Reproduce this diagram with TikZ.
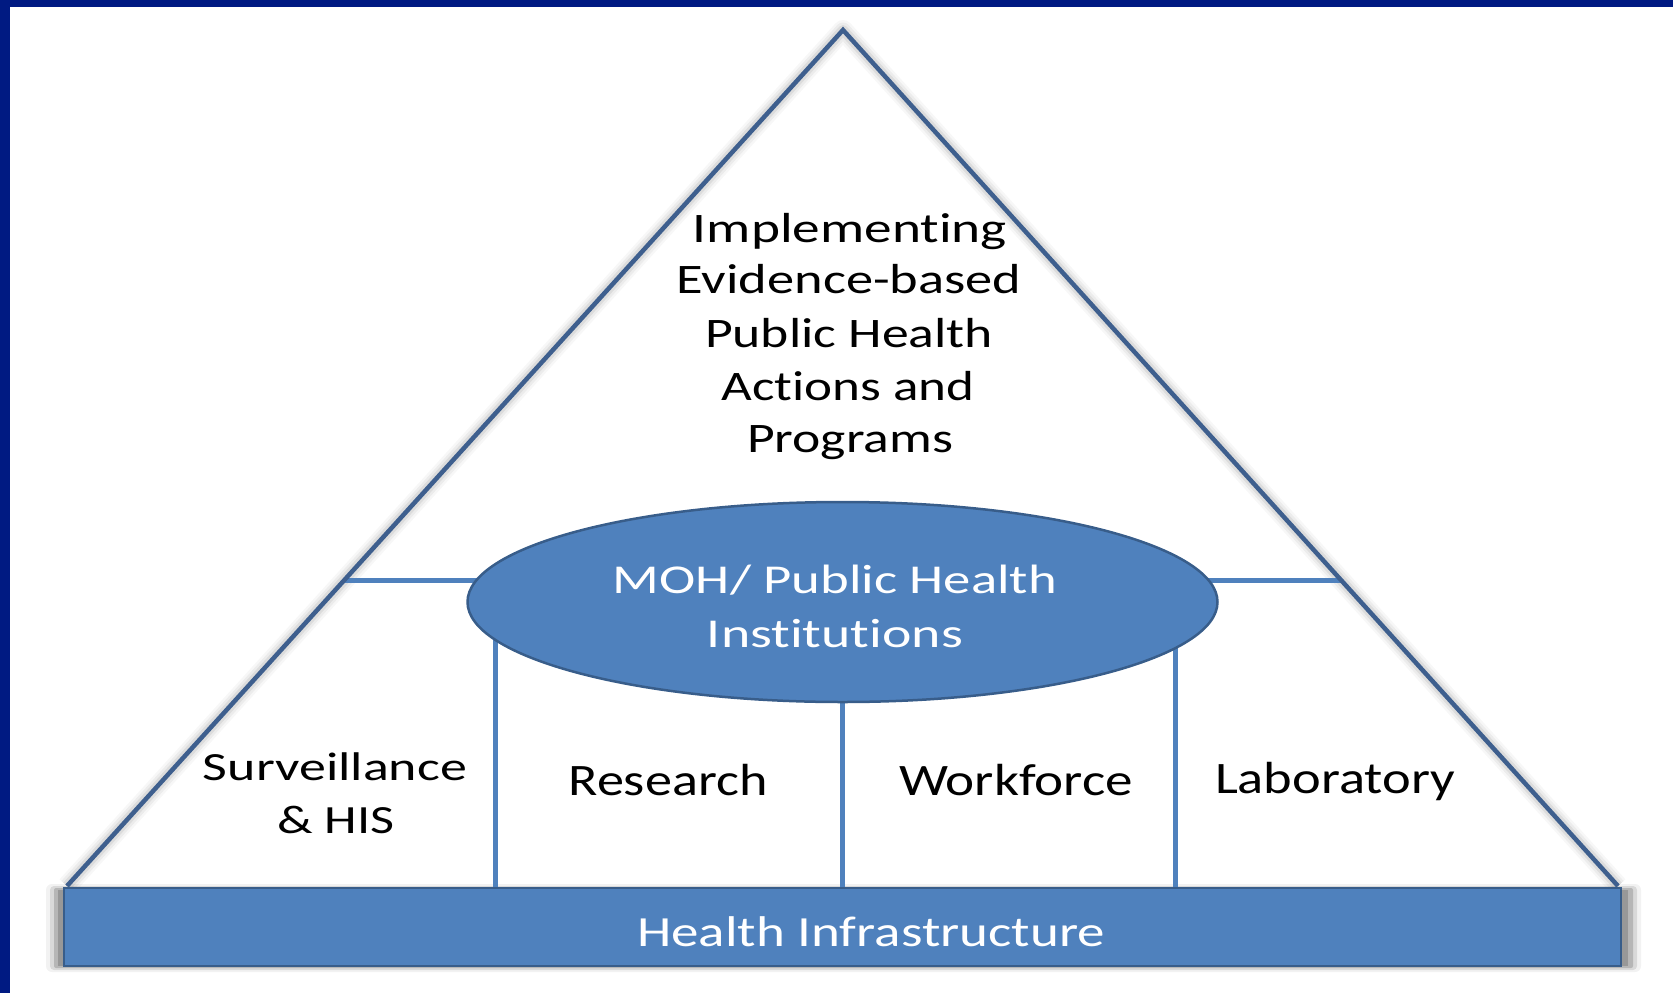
\documentclass[tikz,border=0pt]{standalone}
\usepackage{fontspec}
\setmainfont{Carlito}[Ligatures=NoCommon, Contextuals=NoAlternate]
\usepackage{graphicx}
\usetikzlibrary{shapes.geometric}
\definecolor{frameblue}{RGB}{0,26,130}
\definecolor{fillblue}{HTML}{4F81BD}
\definecolor{edgeblue}{HTML}{385D8A}
\definecolor{triblue}{HTML}{3E5F8E}
\newcommand{\fitw}[2]{\resizebox{#1pt}{\height}{#2}}
\pgfdeclarelayer{bg}
\pgfdeclarelayer{lines}
\pgfsetlayers{bg,lines,main}
\begin{document}
\begin{tikzpicture}[x=1pt,y=-1pt,
  lbl/.style={anchor=base, inner sep=0pt, outer sep=0pt, text=black},
  toptext/.style={lbl, font=\fontsize{42}{42}\selectfont},
  sidetext/.style={lbl, font=\fontsize{40}{40}\selectfont},
  pillartext/.style={lbl, font=\fontsize{45}{45}\selectfont},
  whitetext/.style={lbl, text=white, font=\fontsize{42}{42}\selectfont},
  divider/.style={draw=fillblue, line width=5pt},
  hub/.style={ellipse, draw=edgeblue, fill=fillblue, line width=2.5pt, inner sep=0pt, minimum width=750pt, minimum height=200pt},
  basebar/.style={rectangle, draw=edgeblue, fill=fillblue, line width=2.5pt, inner sep=0pt, minimum width=1557pt, minimum height=78pt}]
\useasboundingbox (0,0) rectangle (1673,993);
\begin{pgfonlayer}{bg}
\fill[white] (0,0) rectangle (1673,993);
\fill[frameblue] (0,0) rectangle (10,993);
\fill[frameblue] (0,0) rectangle (1673,7);
\end{pgfonlayer}
% triangle
\coordinate (apex) at (843,30);
\coordinate (bl) at (67,886);
\coordinate (br) at (1618,886);
\begin{pgfonlayer}{bg}
\foreach \w/\o in {20/0.04, 15/0.06, 10/0.09} {
  \draw[line width=\w pt, black!75, draw opacity=\o, line join=round] (bl) -- (apex) -- (br);
}
\end{pgfonlayer}
\draw[triblue, line width=4.5pt, line join=miter] (bl) -- (apex) -- (br);
% bar shadow
\begin{pgfonlayer}{bg}
\fill[black, opacity=0.05, rounded corners=6pt] (46,884) rectangle (1641,972);
\fill[black, opacity=0.10, rounded corners=4pt] (50,886) rectangle (1637,970);
\fill[black, opacity=0.16, rounded corners=2pt] (54,888) rectangle (1633,968);
\fill[black, opacity=0.16] (58,890) rectangle (1628,966);
\end{pgfonlayer}
% hub ellipse and base bar
\node[hub] (moh) at (842.5,602) {};
\node[basebar] (infra) at (842.5,927) {};
% dividers
\coordinate (lefttri) at (344,580);
\coordinate (righttri) at (1341,580);
\coordinate (d1) at (495,888);
\coordinate (d2) at (842.5,888);
\coordinate (d3) at (1175,888);
\begin{pgfonlayer}{lines}
\draw[divider] (lefttri) -- (lefttri -| moh.center);
\draw[divider] (righttri) -- (righttri -| moh.center);
\draw[divider] (d1) -- (d1 |- moh.center);
\draw[divider] (d2) -- (moh.center);
\draw[divider] (d3) -- (d3 |- moh.center);
\end{pgfonlayer}
% top text
\node[toptext] (t1) at (850,242) {\fitw{314}{Implementing}};
\node[toptext] (t2) at (849,293) {\fitw{345}{Evidence-based}};
\node[toptext] (t3) at (849,347) {\fitw{288}{Public Health}};
\node[toptext] (t4) at (848,400) {\fitw{253}{Actions and}};
\node[toptext] (t5) at (850,452) {\fitw{206}{Programs}};
% hub text
\node[whitetext, font=\fontsize{41}{41}\selectfont] (m1) at (835,593) {\fitw{444}{MOH/ Public Health}};
\node[whitetext, font=\fontsize{41}{41}\selectfont] (m2) at (835,647) {\fitw{256}{Institutions}};
% pillars
\node[sidetext] (s1) at (335,780) {\fitw{264}{Surveillance}};
\node[sidetext] (s2) at (336,833) {\fitw{117}{\& HIS}};
\node[pillartext] (r1) at (668,795) {\fitw{199}{Research}};
\node[pillartext] (w1) at (1016,795) {\fitw{234}{Workforce}};
\node[pillartext] (l1) at (1335,793) {\fitw{240}{Laboratory}};
% base
\node[whitetext, font=\fontsize{43}{43}\selectfont] (h1) at (871,946) {\fitw{468}{Health Infrastructure}};
\end{tikzpicture}
\end{document}
